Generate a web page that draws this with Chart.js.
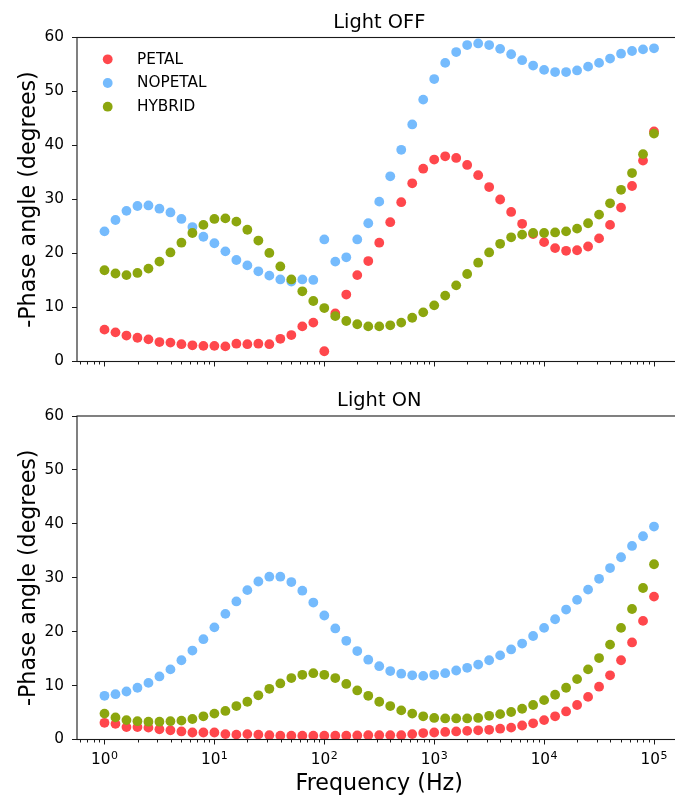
<!DOCTYPE html>
<html><head><meta charset="utf-8">
<script src="https://cdn.jsdelivr.net/npm/chart.js@4.4.1/dist/chart.umd.min.js"></script>
<style>
html,body{margin:0;padding:0;background:#fff;}
#wrap{position:relative;width:675px;height:796px;overflow:hidden;background:#fff;}
.pane{position:absolute;left:0;width:690px;}
#pa{top:0;height:390px;}
#pb{top:390px;height:406px;}
canvas{display:block;}
</style></head><body>
<div id="wrap">
  <div class="pane" id="pa"><canvas id="ca" width="690" height="390"></canvas></div>
  <div class="pane" id="pb"><canvas id="cb" width="690" height="406"></canvas></div>
</div>
<script>
// ---- data ----
const frequencies = [
  1, 1.259, 1.585, 1.995, 2.512, 3.162, 3.981, 5.012, 6.31, 7.943,
  10, 12.59, 15.85, 19.95, 25.12, 31.62, 39.81, 50.12, 63.1, 79.43,
  100, 125.9, 158.5, 199.5, 251.2, 316.2, 398.1, 501.2, 631, 794.3,
  1000, 1259, 1585, 1995, 2512, 3162, 3981, 5012, 6310, 7943,
  10000, 12590, 15850, 19950, 25120, 31620, 39810, 50120, 63100, 79430,
  100000
];
const seriesNames = ['PETAL', 'NOPETAL', 'HYBRID'];
const seriesColors = ['#ff474c', '#75bbfd', '#8ca60e'];
const panelTitles = ['Light OFF', 'Light ON'];

const offPetal = [5.9,5.4,4.8,4.4,4.1,3.6,3.5,3.2,3.0,2.9, 2.9,2.8,3.3,3.2,3.3,3.2,4.2,4.9,6.5,7.2,
  1.9,8.9,12.4,16.0,18.6,22.0,25.8,29.5,33.0,35.7, 37.4,38.0,37.7,36.4,34.5,32.3,30.0,27.7,25.5,23.6,
  22.1,21.0,20.5,20.6,21.3,22.8,25.3,28.5,32.5,37.2, 42.6];
const offNopetal = [24.1,26.2,27.9,28.8,28.9,28.3,27.6,26.4,24.9,23.1, 21.9,20.4,18.8,17.8,16.7,15.9,15.2,14.8,15.2,15.1,
  22.6,18.5,19.3,22.6,25.6,29.6,34.3,39.2,43.9,48.5, 52.3,55.3,57.3,58.6,58.9,58.6,57.9,56.9,55.8,54.8,
  54.0,53.6,53.6,53.9,54.6,55.3,56.1,57.0,57.5,57.8, 58.0];
const offHybrid = [16.9,16.3,16.0,16.4,17.2,18.5,20.2,22.0,23.8,25.3, 26.4,26.5,25.9,24.4,22.4,20.1,17.6,15.2,13.0,11.2,
  9.9,8.4,7.5,6.9,6.5,6.5,6.7,7.2,8.1,9.1, 10.4,12.2,14.1,16.2,18.3,20.2,21.8,23.0,23.5,23.8,
  23.8,23.9,24.1,24.6,25.6,27.2,29.3,31.8,34.9,38.4, 42.2];

const onPetal = [3.1,2.9,2.3,2.3,2.2,1.9,1.7,1.5,1.3,1.3, 1.3,1.0,0.9,1.0,0.9,0.8,0.7,0.7,0.7,0.7,
  0.7,0.7,0.7,0.75,0.8,0.8,0.8,0.8,1.0,1.2, 1.3,1.4,1.5,1.6,1.7,1.8,2.0,2.2,2.6,3.0,
  3.6,4.3,5.2,6.4,7.9,9.8,11.9,14.7,18.0,22.0, 26.5];
const onNopetal = [8.1,8.4,8.9,9.6,10.5,11.7,13.0,14.7,16.5,18.6, 20.8,23.3,25.6,27.7,29.3,30.2,30.2,29.2,27.6,25.4,
  23.0,20.6,18.3,16.4,14.8,13.6,12.7,12.2,11.9,11.8, 12.0,12.3,12.8,13.3,13.9,14.7,15.6,16.7,17.8,19.2,
  20.7,22.3,24.1,25.9,27.8,29.8,31.8,33.8,35.9,37.7, 39.5];
const onHybrid = [4.8,4.1,3.6,3.4,3.3,3.3,3.4,3.5,3.8,4.3, 4.8,5.3,6.2,7.0,8.2,9.4,10.4,11.4,12.0,12.3,
  12.0,11.4,10.3,9.1,8.1,7.0,6.2,5.4,4.8,4.3, 4.0,3.9,3.9,3.9,4.0,4.4,4.7,5.1,5.7,6.4,
  7.3,8.3,9.6,11.2,13.0,15.1,17.6,20.7,24.2,28.1, 32.5];

const yTickValues = [0, 10, 20, 30, 40, 50, 60];
const xDecades = [1, 10, 100, 1000, 10000, 100000];
const xDecadeExponents = ['0', '1', '2', '3', '4', '5'];
const xMin = 0.5623, xMax = 177828;
const yLabel = '-Phase angle (degrees)';
const xLabel = 'Frequency (Hz)';

const FONT = "'DejaVu Sans', sans-serif";

function makeDatasets(arrs) {
  return arrs.map((vals, i) => ({
    label: seriesNames[i],
    data: vals.map((v, j) => ({ x: frequencies[j], y: v })),
    backgroundColor: seriesColors[i],
    borderWidth: 0,
    pointRadius: 4.9,
    pointHoverRadius: 4.9,
    order: 3 - i
  }));
}

const decorPlugin = {
  id: 'decor',
  afterDraw(chart, args, o) {
    const ctx = chart.ctx;
    const { left, right, top, bottom } = chart.chartArea;
    const xs = chart.scales.x;
    ctx.save();
    // spines
    ctx.strokeStyle = '#1a1a1a';
    ctx.lineWidth = 1.1;
    ctx.strokeRect(left, top, right - left, bottom - top);
    // x ticks
    ctx.lineWidth = 1;
    for (let k = -1; k <= 5; k++) {
      for (let m = 1; m <= 9; m++) {
        const v = m * Math.pow(10, k);
        if (v < xMin || v > xMax) continue;
        const px = Math.round(xs.getPixelForValue(v)) + 0.5;
        const len = (m === 1) ? 5 : 3;
        ctx.beginPath();
        ctx.moveTo(px, bottom);
        ctx.lineTo(px, bottom + len);
        ctx.stroke();
      }
    }
    ctx.fillStyle = '#000';
    // x tick labels
    if (o.xTickLabels) {
      xDecades.forEach((v, i) => {
        const px = xs.getPixelForValue(v);
        ctx.font = '15.3px ' + FONT;
        const wb = ctx.measureText('10').width;
        ctx.font = '11px ' + FONT;
        const we = ctx.measureText(xDecadeExponents[i]).width;
        const x0 = px - (wb + we + 0.5) / 2;
        ctx.textAlign = 'left';
        ctx.textBaseline = 'alphabetic';
        ctx.font = '15.3px ' + FONT;
        ctx.fillText('10', x0, bottom + 24);
        ctx.font = '11px ' + FONT;
        ctx.fillText(xDecadeExponents[i], x0 + wb + 0.5, bottom + 19);
      });
    }
    // title
    ctx.font = '19.4px ' + FONT;
    ctx.textAlign = 'center';
    ctx.textBaseline = 'alphabetic';
    ctx.fillText(o.title, (left + right) / 2, top - 10);
    // y label
    ctx.save();
    ctx.translate(34.5, (top + bottom) / 2);
    ctx.rotate(-Math.PI / 2);
    ctx.font = '22.2px ' + FONT;
    ctx.textAlign = 'center';
    ctx.textBaseline = 'alphabetic';
    ctx.fillText(yLabel, 0, 0);
    ctx.restore();
    // x label
    if (o.xLabel) {
      ctx.font = '22.2px ' + FONT;
      ctx.textAlign = 'center';
      ctx.textBaseline = 'alphabetic';
      ctx.fillText(xLabel, (left + right) / 2, bottom + 50);
    }
    // legend
    if (o.legend) {
      chart.data.datasets.forEach((ds, i) => {
        const cy = top + 21.8 + i * 23.7;
        ctx.fillStyle = ds.backgroundColor;
        ctx.beginPath();
        ctx.arc(left + 30.7, cy, 4.9, 0, Math.PI * 2);
        ctx.fill();
        ctx.fillStyle = '#000';
        ctx.font = '15.3px ' + FONT;
        ctx.textAlign = 'left';
        ctx.textBaseline = 'middle';
        ctx.fillText(ds.label, left + 60, cy + 0.5);
      });
    }
    ctx.restore();
  }
};

function makeChart(canvasId, arrs, padTop, xHeight, opts) {
  return new Chart(document.getElementById(canvasId), {
    type: 'scatter',
    data: { datasets: makeDatasets(arrs) },
    options: {
      responsive: false,
      devicePixelRatio: 1,
      animation: false,
      events: [],
      layout: { padding: { top: padTop, right: 8.5, left: 0, bottom: 0 } },
      plugins: {
        legend: { display: false },
        tooltip: { enabled: false },
        title: { display: false },
        decor: opts
      },
      scales: {
        x: {
          type: 'logarithmic',
          min: xMin,
          max: xMax,
          grid: { display: false },
          border: { display: false },
          ticks: { display: false },
          afterFit: (s) => { s.height = xHeight; }
        },
        y: {
          min: 0,
          max: 60,
          afterBuildTicks: (s) => { s.ticks = yTickValues.map(v => ({ value: v })); },
          grid: { drawOnChartArea: false, drawTicks: true, tickLength: 5, tickColor: '#1a1a1a', tickWidth: 1 },
          border: { display: false },
          ticks: { color: '#000', padding: 8, font: { family: FONT, size: 15.3 } },
          afterFit: (s) => { s.width = 77; }
        }
      }
    },
    plugins: [decorPlugin]
  });
}

makeChart('ca', [offPetal, offNopetal, offHybrid], 37.5, 28.5,
  { title: panelTitles[0], legend: true, xTickLabels: false, xLabel: false });
makeChart('cb', [onPetal, onNopetal, onHybrid], 26, 56.5,
  { title: panelTitles[1], legend: false, xTickLabels: true, xLabel: true });
</script>
</body></html>
